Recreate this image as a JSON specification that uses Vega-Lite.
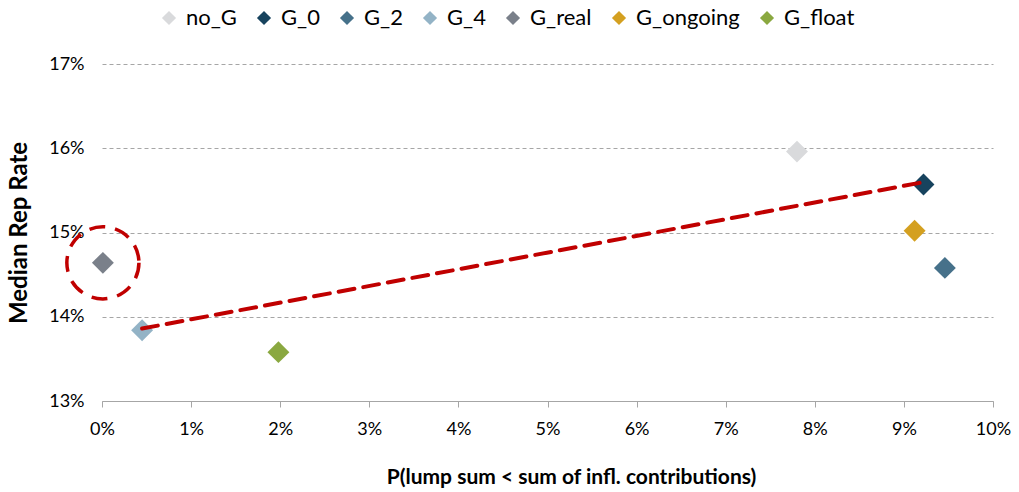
{
  "$schema": "https://vega.github.io/schema/vega-lite/v6.json",
  "width": 891,
  "height": 337,
  "autosize": {"type": "none"},
  "padding": {"left": 102, "top": 64, "right": 26, "bottom": 91},
  "background": "white",
  "config": {
    "view": {"stroke": null},
    "font": "Lato",
    "axis": {"labelFont": "Lato", "titleFont": "Lato", "labelColor": "#000000", "titleColor": "#000000"}
  },
  "datasets": {
    "pts": [
      {"series": "no_G", "x": 0.0780, "y": 0.1596},
      {"series": "G_0", "x": 0.0922, "y": 0.1557},
      {"series": "G_2", "x": 0.0946, "y": 0.1458},
      {"series": "G_4", "x": 0.0045, "y": 0.1384},
      {"series": "G_real", "x": 0.0001, "y": 0.1464},
      {"series": "G_ongoing", "x": 0.0912, "y": 0.1502},
      {"series": "G_float", "x": 0.0198, "y": 0.1358}
    ],
    "trend": [
      {"x": 0.0045, "y": 0.1386},
      {"x": 0.0918, "y": 0.1559}
    ],
    "highlight": [
      {"x": 0.0001, "y": 0.1464}
    ]
  },
  "layer": [
    {
      "data": {"name": "pts"},
      "mark": {"type": "point", "shape": "diamond", "filled": true, "size": 480, "opacity": 1},
      "encoding": {
        "x": {
          "field": "x", "type": "quantitative",
          "scale": {"domain": [0, 0.1], "nice": false, "zero": false},
          "axis": {
            "title": "P(lump sum < sum of infl. contributions)",
            "titleFontSize": 21, "titleFontWeight": "bold", "titlePadding": 28,
            "titleX": 469, "titleAlign": "center",
            "format": ".0%",
            "values": [0, 0.01, 0.02, 0.03, 0.04, 0.05, 0.06, 0.07, 0.08, 0.09, 0.1],
            "labelFontSize": 18, "labelPadding": 13, "labelFlush": false,
            "grid": false,
            "domainColor": "#A6A6A6", "tickColor": "#A6A6A6", "tickSize": 6
          }
        },
        "y": {
          "field": "y", "type": "quantitative",
          "scale": {"domain": [0.13, 0.17], "nice": false, "zero": false},
          "axis": {
            "title": "Median Rep Rate",
            "titleFontSize": 24, "titleFontWeight": "bold", "titlePadding": 17,
            "format": ".0%",
            "values": [0.13, 0.14, 0.15, 0.16, 0.17],
            "labelFontSize": 18, "labelPadding": 18, "labelFlush": false,
            "domain": false, "ticks": false,
            "grid": true, "gridColor": "#A6A6A6", "gridDash": [4, 3], "gridWidth": 1
          }
        },
        "color": {
          "field": "series", "type": "nominal",
          "scale": {
            "domain": ["no_G", "G_0", "G_2", "G_4", "G_real", "G_ongoing", "G_float"],
            "range": ["#D9DADC", "#17435E", "#46718A", "#93B3C6", "#7A808A", "#D4A020", "#8AA840"]
          },
          "legend": {
            "title": null,
            "orient": "none",
            "direction": "horizontal",
            "legendX": 56,
            "legendY": -57,
            "symbolType": "diamond",
            "symbolSize": 200,
            "symbolOpacity": 1,
            "labelFontSize": 22,
            "labelFont": "Lato",
            "labelColor": "#000000",
            "columnPadding": 16,
            "labelOffset": 6
          }
        }
      }
    },
    {
      "data": {"name": "trend"},
      "mark": {"type": "line", "color": "#C00000", "strokeWidth": 4, "strokeDash": [16, 9], "strokeCap": "round"},
      "encoding": {
        "x": {"field": "x", "type": "quantitative"},
        "y": {"field": "y", "type": "quantitative"}
      }
    },
    {
      "data": {"name": "highlight"},
      "mark": {"type": "point", "shape": "circle", "filled": false, "size": 5200, "stroke": "#C00000", "strokeWidth": 3.5, "strokeDash": [16, 10], "opacity": 1},
      "encoding": {
        "x": {"field": "x", "type": "quantitative"},
        "y": {"field": "y", "type": "quantitative"}
      }
    }
  ]
}
